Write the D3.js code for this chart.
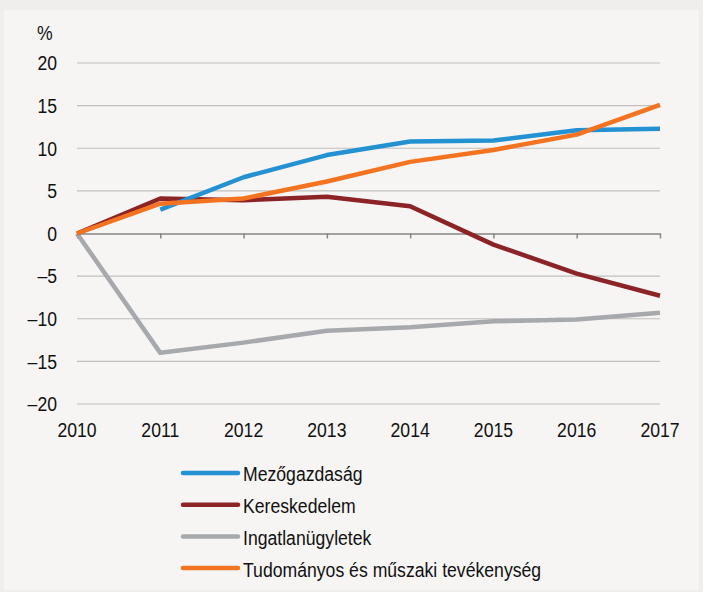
<!DOCTYPE html>
<html>
<head>
<meta charset="utf-8">
<script src="https://cdn.jsdelivr.net/npm/d3@7"></script>
<style>
  body { margin: 0; background: #efeeec; }
  svg { display: block; font-family: "Liberation Sans", Arial, sans-serif; }
</style>
</head>
<body>
<div id="chart"></div>
<script>
// years on the x axis
const years = [2010, 2011, 2012, 2013, 2014, 2015, 2016, 2017];
const yTicks = [20, 15, 10, 5, 0, -5, -10, -15, -20];

// series values (% change since 2010)
const mezogazdasag = [null, 2.8, 6.6, 9.2, 10.8, 10.9, 12.1, 12.3];
const kereskedelem = [0, 4.1, 3.9, 4.3, 3.2, -1.3, -4.7, -7.3];
const ingatlan = [0, -14.0, -12.8, -11.4, -11.0, -10.3, -10.1, -9.3];
const tudomanyos = [0, 3.5, 4.1, 6.1, 8.4, 9.8, 11.6, 15.1];

const seriesNames = ["Mezőgazdaság", "Kereskedelem", "Ingatlanügyletek", "Tudományos és műszaki tevékenység"];
const seriesValues = [mezogazdasag, kereskedelem, ingatlan, tudomanyos];
const colors = ["#2391d2", "#8b2327", "#a7a9ac", "#f47321"];
// drawing order (blue underneath orange etc.)
const drawOrder = [2, 1, 0, 3];

const W = 703, H = 592;
const fontSize = "21px", squeeze = 0.84;   // narrow font look

const svg = d3.select("#chart").append("svg")
    .attr("width", W)
    .attr("height", H);

// panel
svg.append("rect").attr("x", 0).attr("y", 0).attr("width", W).attr("height", H).attr("fill", "#efeeec");
svg.append("rect").attr("x", 4).attr("y", 10).attr("width", 695).attr("height", 580).attr("fill", "#f6f5f3");

const x = d3.scalePoint().domain(years).range([77, 660]);
const y = d3.scaleLinear().domain([-20, 20]).range([404, 63]);

// gridlines
svg.append("g")
    .selectAll("line")
    .data(yTicks.filter(d => d !== 0))
    .join("line")
    .attr("x1", 77).attr("x2", 660)
    .attr("y1", d => y(d)).attr("y2", d => y(d))
    .attr("stroke", "#bfbfbf")
    .attr("stroke-width", 1.2);

// y labels
svg.append("g")
    .selectAll("text")
    .data(yTicks)
    .join("text")
    .attr("transform", d => `translate(57, ${y(d)}) scale(${squeeze}, 1)`)
    .attr("dy", "0.35em")
    .attr("text-anchor", "end")
    .style("font-size", fontSize)
    .attr("fill", "#111")
    .text(d => d < 0 ? "\u2013" + Math.abs(d) : d);

svg.append("text")
    .attr("transform", `translate(37, 40) scale(${squeeze}, 1)`)
    .style("font-size", fontSize)
    .attr("fill", "#111")
    .text("%");

// zero axis with ticks
const xAxis = svg.append("g")
    .attr("transform", `translate(0, ${y(0)})`)
    .call(d3.axisBottom(x).tickSize(5).tickSizeOuter(0).tickFormat(""));
xAxis.select(".domain").attr("stroke", "#858585").attr("stroke-width", 1.5);
xAxis.selectAll(".tick line").attr("stroke", "#858585").attr("stroke-width", 1.5);

// year labels
svg.append("g")
    .selectAll("text")
    .data(years)
    .join("text")
    .attr("transform", d => `translate(${x(d)}, 437) scale(${squeeze}, 1)`)
    .attr("text-anchor", "middle")
    .style("font-size", fontSize)
    .attr("fill", "#111")
    .text(d => d);

// lines
const line = d3.line()
    .defined(d => d.v !== null)
    .x(d => x(d.year))
    .y(d => y(d.v));

svg.append("g")
    .selectAll("path")
    .data(drawOrder)
    .join("path")
    .attr("d", i => line(years.map((yr, j) => ({year: yr, v: seriesValues[i][j]}))))
    .attr("fill", "none")
    .attr("stroke", i => colors[i])
    .attr("stroke-width", 4.5)
    .attr("stroke-linejoin", "round");

// legend
const legend = svg.append("g")
    .selectAll("g")
    .data(seriesNames)
    .join("g")
    .attr("transform", (d, i) => `translate(183, ${473 + i * 31.7})`);
legend.append("line")
    .attr("x1", 0).attr("x2", 55)
    .attr("stroke", (d, i) => colors[i])
    .attr("stroke-width", 4.5)
    .attr("stroke-linecap", "round");
legend.append("text")
    .attr("transform", `translate(60, 0) scale(${squeeze}, 1)`)
    .attr("dy", "0.4em")
    .style("font-size", fontSize)
    .attr("fill", "#111")
    .text(d => d);
</script>
</body>
</html>
